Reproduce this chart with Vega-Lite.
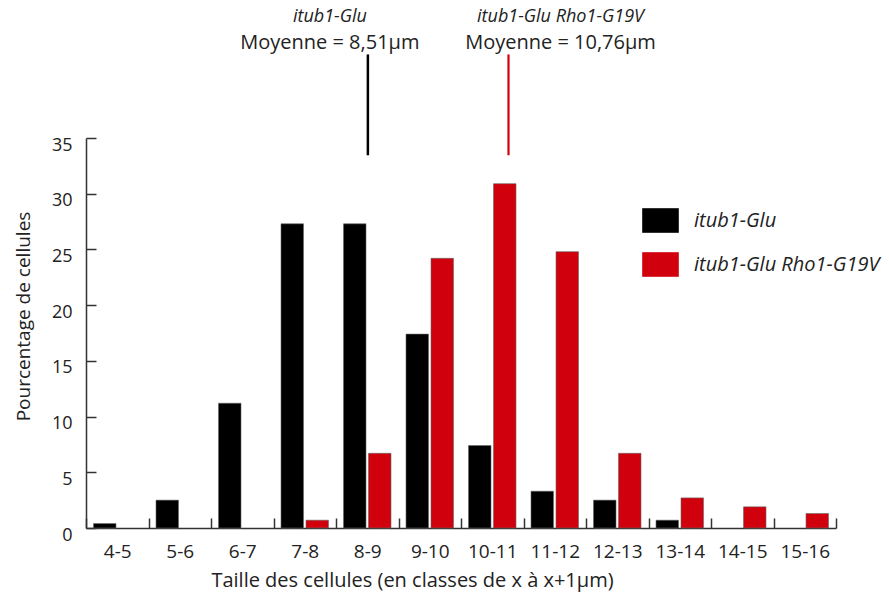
{
  "$schema": "https://vega.github.io/schema/vega-lite/v6.json",
  "width": 750,
  "height": 390,
  "autosize": {"type": "none"},
  "padding": {"left": 86, "top": 138, "right": 53, "bottom": 69},
  "background": "white",
  "config": {
    "view": {"stroke": null},
    "font": "Open Sans",
    "axis": {"labelColor": "#222", "titleColor": "#222", "titleFontWeight": "normal", "domainColor": "#333", "tickColor": "#333", "domainWidth": 1.5, "tickWidth": 1.5, "grid": false}
  },
  "layer": [
    {
      "data": {
        "values": [
          {"classe": "4-5", "souche": "itub1-Glu", "pct": 0.4},
          {"classe": "5-6", "souche": "itub1-Glu", "pct": 2.5},
          {"classe": "6-7", "souche": "itub1-Glu", "pct": 11.2},
          {"classe": "7-8", "souche": "itub1-Glu", "pct": 27.3},
          {"classe": "8-9", "souche": "itub1-Glu", "pct": 27.3},
          {"classe": "9-10", "souche": "itub1-Glu", "pct": 17.4},
          {"classe": "10-11", "souche": "itub1-Glu", "pct": 7.4},
          {"classe": "11-12", "souche": "itub1-Glu", "pct": 3.3},
          {"classe": "12-13", "souche": "itub1-Glu", "pct": 2.5},
          {"classe": "13-14", "souche": "itub1-Glu", "pct": 0.7},
          {"classe": "7-8", "souche": "itub1-Glu Rho1-G19V", "pct": 0.7},
          {"classe": "8-9", "souche": "itub1-Glu Rho1-G19V", "pct": 6.7},
          {"classe": "9-10", "souche": "itub1-Glu Rho1-G19V", "pct": 24.2},
          {"classe": "10-11", "souche": "itub1-Glu Rho1-G19V", "pct": 30.9},
          {"classe": "11-12", "souche": "itub1-Glu Rho1-G19V", "pct": 24.8},
          {"classe": "12-13", "souche": "itub1-Glu Rho1-G19V", "pct": 6.7},
          {"classe": "13-14", "souche": "itub1-Glu Rho1-G19V", "pct": 2.7},
          {"classe": "14-15", "souche": "itub1-Glu Rho1-G19V", "pct": 1.9},
          {"classe": "15-16", "souche": "itub1-Glu Rho1-G19V", "pct": 1.3}
        ]
      },
      "mark": {"type": "bar", "stroke": "#666", "strokeWidth": 0.6},
      "encoding": {
        "x": {
          "field": "classe", "type": "nominal",
          "sort": ["4-5","5-6","6-7","7-8","8-9","9-10","10-11","11-12","12-13","13-14","14-15","15-16"],
          "scale": {"paddingInner": 0, "paddingOuter": 0},
          "axis": {"labelAngle": 0, "labelFontSize": 19, "labelPadding": 24, "tickBand": "extent", "tickSize": -10,
                   "title": "Taille des cellules (en classes de x à x+1µm)", "titleFontSize": 20, "titlePadding": 9,
                   "titleX": 326, "titleAnchor": "middle"}
        },
        "xOffset": {
          "field": "souche", "type": "nominal",
          "sort": ["itub1-Glu", "itub1-Glu Rho1-G19V"],
          "scale": {"paddingInner": 0.1, "paddingOuter": 0.3}
        },
        "y": {
          "field": "pct", "type": "quantitative",
          "scale": {"domain": [0, 35], "nice": false},
          "axis": {"values": [0,5,10,15,20,25,30,35], "labelFontSize": 18, "tickSize": -10, "labelPadding": 24, "labelOffset": 7,
                   "title": "Pourcentage de cellules", "titleFontSize": 19, "titlePadding": 18, "titleY": 178}
        },
        "color": {
          "field": "souche", "type": "nominal",
          "scale": {"domain": ["itub1-Glu", "itub1-Glu Rho1-G19V"], "range": ["#000000", "#d0000c"]},
          "legend": {
            "orient": "none", "legendX": 562, "legendY": 70, "padding": 0, "title": null,
            "symbolType": "M-1.5,-1H1.5V1H-1.5Z", "symbolSize": 576, "symbolStrokeColor": "#666", "symbolStrokeWidth": 0.6,
            "symbolOpacity": 1,
            "labelFontSize": 20, "labelFontStyle": "italic", "labelColor": "#222", "labelOffset": 21, "rowPadding": 17, "labelLimit": 300
          }
        }
      }
    },
    {
      "data": {"values": [{"souche": "itub1-Glu", "moyenne": 8.51, "nom": "itub1-Glu", "texte": "Moyenne = 8,51µm"}]},
      "layer": [
        {
          "mark": {"type": "rule", "strokeWidth": 2.5},
          "encoding": {
            "x": {"field": "moyenne", "type": "quantitative", "scale": {"domain": [4, 16], "nice": false, "zero": false}, "axis": null},
            "y": {"datum": 33.45},
            "y2": {"datum": 42.5},
            "color": {"field": "souche", "type": "nominal", "legend": null}
          }
        },
        {
          "mark": {"type": "text", "fontSize": 18, "fontStyle": "italic", "dx": -38, "color": "#222", "baseline": "alphabetic"},
          "encoding": {
            "x": {"field": "moyenne", "type": "quantitative"},
            "y": {"datum": 45.45},
            "text": {"field": "nom"}
          }
        },
        {
          "mark": {"type": "text", "fontSize": 20, "dx": -38, "color": "#222", "baseline": "alphabetic"},
          "encoding": {
            "x": {"field": "moyenne", "type": "quantitative"},
            "y": {"datum": 43.0},
            "text": {"field": "texte"}
          }
        }
      ]
    },
    {
      "data": {"values": [{"souche": "itub1-Glu Rho1-G19V", "moyenne": 10.76, "nom": "itub1-Glu Rho1-G19V", "texte": "Moyenne = 10,76µm"}]},
      "layer": [
        {
          "mark": {"type": "rule", "strokeWidth": 2.2},
          "encoding": {
            "x": {"field": "moyenne", "type": "quantitative", "scale": {"domain": [4, 16], "nice": false, "zero": false}, "axis": null},
            "y": {"datum": 33.45},
            "y2": {"datum": 42.5},
            "color": {"field": "souche", "type": "nominal", "legend": null}
          }
        },
        {
          "mark": {"type": "text", "fontSize": 18, "fontStyle": "italic", "dx": 52, "color": "#222", "baseline": "alphabetic"},
          "encoding": {
            "x": {"field": "moyenne", "type": "quantitative"},
            "y": {"datum": 45.45},
            "text": {"field": "nom"}
          }
        },
        {
          "mark": {"type": "text", "fontSize": 20, "dx": 52, "color": "#222", "baseline": "alphabetic"},
          "encoding": {
            "x": {"field": "moyenne", "type": "quantitative"},
            "y": {"datum": 43.0},
            "text": {"field": "texte"}
          }
        }
      ]
    }
  ],
  "resolve": {"scale": {"x": "independent"}}
}
